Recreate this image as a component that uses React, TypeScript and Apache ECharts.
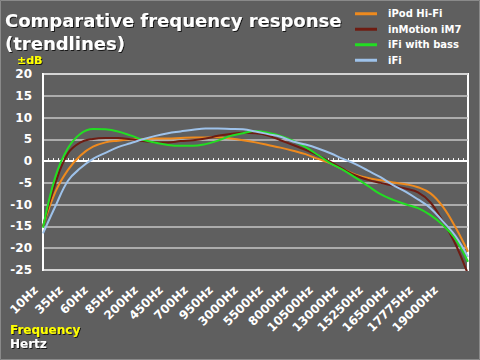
import React, { useEffect, useRef } from "react";
import * as echarts from "echarts";

const freqLabels = [
  "10Hz", "35Hz", "60Hz", "85Hz", "200Hz", "450Hz", "700Hz", "950Hz", "3000Hz",
  "5500Hz", "8000Hz", "10500Hz", "13000Hz", "15250Hz", "16500Hz", "17775Hz", "19000Hz",
];

// trendline samples, two per frequency label step (positions 0, 0.5, 1, ... 17)
const ipodHiFi = [
  -15.0, -7.0, -2.0, 1.3, 3.3, 4.3, 4.7, 5.0, 5.1, 5.2, 5.2, 5.3, 5.4, 5.4, 5.5, 5.2, 4.8, 4.3,
  3.7, 3.1, 2.4, 1.6, 0.5, -0.5, -1.9, -3.1, -3.9, -4.4, -4.9, -5.3, -6.0, -7.4, -10.5, -15.2, -20.8,
];
const inMotionIM7 = [
  -15.0, -5.0, 1.8, 4.3, 5.1, 5.3, 5.3, 5.0, 4.6, 4.3, 4.3, 4.6, 4.8, 5.2, 5.8, 6.2, 6.5, 6.4,
  5.9, 4.8, 3.7, 2.6, 1.3, -0.2, -1.8, -3.3, -4.3, -5.0, -5.6, -6.3, -7.2, -9.5, -13.9, -19.1, -26.0,
];
const iFiWithBass = [
  -15.3, -3.5, 3.0, 6.3, 7.4, 7.3, 6.8, 5.9, 4.9, 4.2, 3.7, 3.5, 3.5, 3.9, 4.7, 5.8, 6.4, 6.9,
  6.5, 5.8, 4.7, 3.2, 1.4, -0.5, -2.0, -3.8, -5.7, -7.6, -8.9, -9.9, -10.8, -12.4, -14.7, -17.9, -23.1,
];
const iFi = [
  -16.6, -10.3, -4.5, -1.6, 0.5, 1.9, 3.2, 4.1, 5.0, 5.8, 6.4, 6.8, 7.2, 7.5, 7.5, 7.4, 7.3, 6.8,
  6.2, 5.6, 4.5, 3.8, 2.9, 1.8, 0.5, -0.7, -2.2, -3.7, -5.5, -7.0, -8.8, -10.8, -13.9, -17.2, -22.0,
];

const seriesNames = ["iPod Hi-Fi", "inMotion iM7", "iFi with bass", "iFi"];
const seriesColors = ["#ee8a1e", "#6e1c12", "#22dd22", "#9ec2ea"];
const seriesValues = [ipodHiFi, inMotionIM7, iFiWithBass, iFi];

const yMin = -25;
const yMax = 20;
const yStep = 5;

const FONT = "'DejaVu Sans', Verdana, sans-serif";

export default function App() {
  const ref = useRef<HTMLDivElement>(null);

  useEffect(() => {
    if (!ref.current) return;
    const chart = echarts.init(ref.current, undefined, { renderer: "svg" });
    const shadow = {
      textShadowColor: "rgba(0,0,0,0.75)",
      textShadowOffsetX: 1,
      textShadowOffsetY: 1,
      textShadowBlur: 1,
    };
    chart.setOption({
      animation: false,
      backgroundColor: "#5f5f5f",
      title: {
        text: "Comparative frequency response\n(trendlines)",
        left: 5,
        top: 9,
        padding: 0,
        textStyle: {
          color: "#ffffff",
          fontSize: 18,
          fontWeight: "bold",
          fontFamily: FONT,
          lineHeight: 23,
          ...shadow,
        },
      },
      legend: {
        orient: "vertical",
        left: 355,
        top: 6,
        padding: 0,
        itemGap: 0,
        icon: "rect",
        itemWidth: 22,
        itemHeight: 3,
        data: seriesNames,
        textStyle: {
          color: "#ffffff",
          fontSize: 10,
          fontWeight: "bold",
          fontFamily: FONT,
          lineHeight: 15.5,
          padding: [0, 0, 0, 6],
        },
      },
      grid: {
        left: 43,
        right: 12,
        top: 74,
        bottom: 90,
        show: true,
        borderColor: "#ffffff",
        borderWidth: 2,
      },
      xAxis: {
        type: "value",
        min: 0,
        max: freqLabels.length,
        interval: 1,
        axisLine: { show: true, lineStyle: { color: "#ffffff", width: 2 } },
        axisTick: { show: true, inside: true, length: 3, lineStyle: { color: "#ffffff", width: 1 } },
        minorTick: { show: true, splitNumber: 5, length: 3, lineStyle: { color: "#ffffff", width: 1 } },
        splitLine: { show: false },
        axisLabel: {
          rotate: 45,
          margin: 11,
          padding: [0, 10, 0, 0],
          color: "#ffffff",
          fontSize: 12,
          fontWeight: "bold",
          fontFamily: FONT,
          showMaxLabel: false,
          formatter: (v: number) => freqLabels[Math.round(v)] ?? "",
        },
      },
      yAxis: {
        type: "value",
        min: yMin,
        max: yMax,
        interval: yStep,
        axisLine: { show: true, lineStyle: { color: "#ffffff", width: 2 } },
        axisTick: { show: false },
        splitLine: { show: true, lineStyle: { color: "#c6c6c6", width: 1.5 } },
        axisLabel: {
          margin: 11,
          color: "#ffffff",
          fontSize: 12,
          fontWeight: "bold",
          fontFamily: FONT,
        },
      },
      graphic: [
        {
          type: "rect",
          silent: true,
          z: -1,
          shape: { x: 0.5, y: 0.5, width: 479, height: 359 },
          style: { fill: "none", stroke: "#8a8a8a", lineWidth: 1 },
        },
        {
          type: "text",
          left: 17,
          top: 55,
          style: { text: "±dB", fill: "#ffff00", font: `bold 11px ${FONT}`, ...shadow },
        },
        {
          type: "text",
          left: 10,
          top: 324,
          style: { text: "Frequency", fill: "#ffff00", font: `bold 12px ${FONT}`, ...shadow },
        },
        {
          type: "text",
          left: 10,
          top: 338,
          style: { text: "Hertz", fill: "#ffffff", font: `bold 12px ${FONT}`, ...shadow },
        },
      ],
      series: seriesNames.map((name, i) => ({
        name,
        type: "line",
        data: seriesValues[i].map((v, k) => [k / 2, v]),
        smooth: 0.4,
        showSymbol: false,
        clip: true,
        lineStyle: { color: seriesColors[i], width: 2 },
        itemStyle: { color: seriesColors[i] },
      })),
    });
    return () => chart.dispose();
  }, []);

  return (
    <div
      ref={ref}
      style={{
        position: "absolute",
        left: 0,
        top: 0,
        width: 480,
        height: 360,
      }}
    />
  );
}
